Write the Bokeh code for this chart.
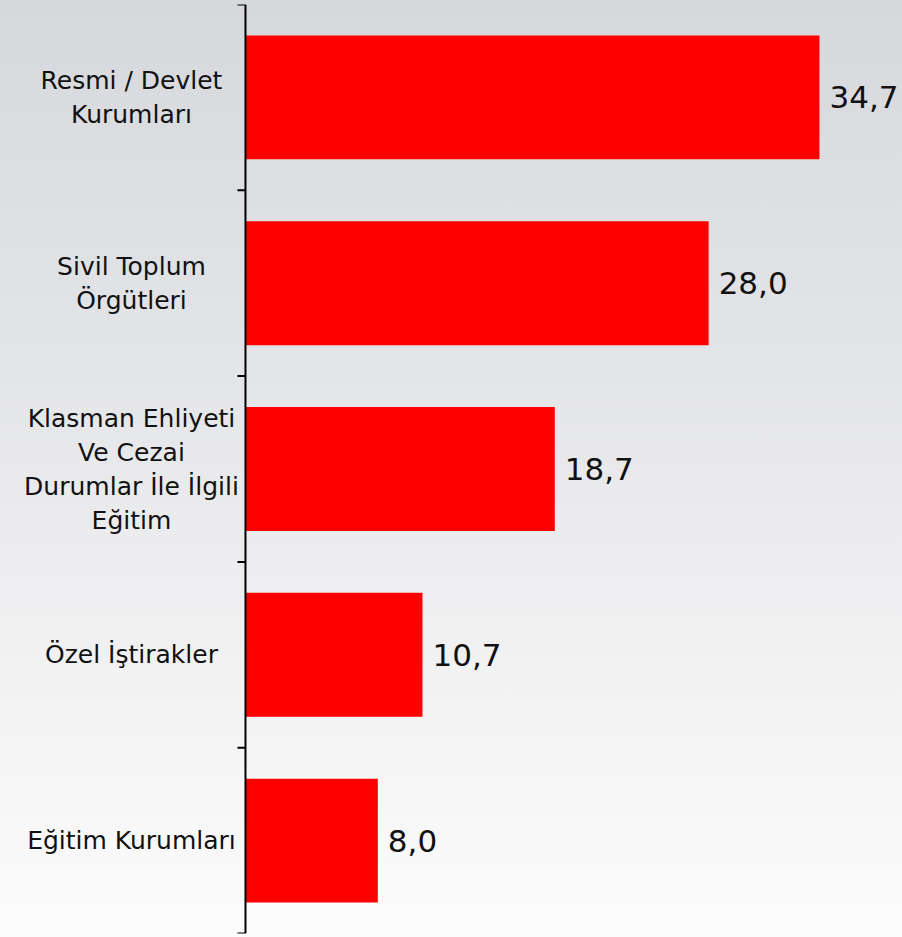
import numpy as np
from bokeh.plotting import figure
from bokeh.models import ColumnDataSource, Range1d, Span
from bokeh.core.properties import value
from bokeh.embed import file_html
from bokeh.resources import INLINE

categories = [
    "Resmi / Devlet\nKurumları",
    "Sivil Toplum\nÖrgütleri",
    "Klasman Ehliyeti\nVe Cezai\nDurumlar İle İlgili\nEğitim",
    "Özel İştirakler",
    "Eğitim Kurumları",
]
values = [34.7, 28.0, 18.7, 10.7, 8.0]

n = len(categories)
pos = [i + 0.5 for i in range(n)]
bounds = list(range(n + 1))
labels = [f"{v:.1f}".replace(".", ",") for v in values]

# split multi-line category labels into centred single lines
LINE_PX = 34
line_txt, line_y, line_off = [], [], []
for c, y in zip(categories, pos):
    parts = c.split("\n")
    for k, t in enumerate(parts):
        line_txt.append(t)
        line_y.append(y)
        line_off.append((k - (len(parts) - 1) / 2) * LINE_PX)

src = ColumnDataSource(dict(y=pos, v=values, lab=labels))
lsrc = ColumnDataSource(dict(t=line_txt, y=line_y, off=line_off))

p = figure(
    width=902, height=937,
    output_backend="svg", toolbar_location=None,
    x_range=Range1d(-14.81, 39.72), y_range=Range1d(n, 0),
    min_border_left=0, min_border_right=0, min_border_top=4, min_border_bottom=4,
)
p.styles = {"background": "linear-gradient(to bottom, #d6d8dc 0%, #e4e5e8 40%, #f3f3f4 75%, #fcfcfc 100%)"}
p.border_fill_color = None
p.background_fill_color = None
p.outline_line_color = None
p.grid.visible = False
p.axis.visible = False

p.hbar(y="y", right="v", left=0, height=0.667, source=src,
       fill_color="#ff0000", line_color=None)

p.text(x="v", y="y", text="lab", source=src, x_offset=10,
       text_font=value("DejaVu Sans"), text_font_size="31px",
       text_baseline="middle", text_align="left", text_color="#111111")

# category labels, left of the axis, lines centred
p.text(x=0, y="y", text="t", source=lsrc, x_offset=-114, y_offset="off",
       text_font=value("DejaVu Sans"), text_font_size="25px",
       text_baseline="middle", text_align="center", text_color="#111111")

# axis line and boundary ticks
p.add_layout(Span(location=0, dimension="height", line_color="#000000", line_width=2))
p.ray(x=0, y=bounds, length=8, length_units="screen", angle=np.pi,
      line_color="#000000", line_width=2)

open("out.html", "w").write(file_html(p, INLINE))
